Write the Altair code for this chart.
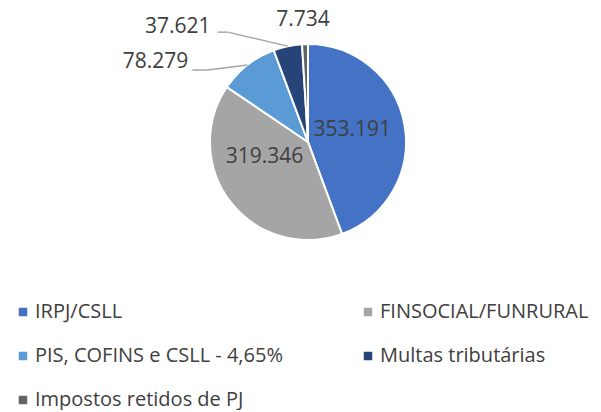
import altair as alt
import pandas as pd

categories = ["IRPJ/CSLL", "FINSOCIAL/FUNRURAL", "PIS, COFINS e CSLL - 4,65%",
              "Multas tributárias", "Impostos retidos de PJ"]
values = [353191, 319346, 78279, 37621, 7734]
colors = ["#4472C4", "#A5A5A5", "#5B9BD5", "#264478", "#636363"]

labels = [f"{v:,}".replace(",", ".") for v in values]
df = pd.DataFrame({"category": categories, "value": values,
                   "idx": list(range(len(values))), "label": labels})

CX, CY, R = 300, 134, 98
FONT = "Open Sans"
TXT = "#404040"

base = alt.Chart(df).transform_joinaggregate(
    total="sum(value)"
).transform_window(
    cum="sum(value)", sort=[alt.SortField("idx")], frame=[None, 0]
).transform_calculate(
    mid="2*PI*(datum.cum - datum.value/2)/datum.total"
).transform_calculate(
    ix=f"{CX} + 45*sin(datum.mid)", iy=f"{CY} - 45*cos(datum.mid)",
    ex=f"{CX} + {R}*sin(datum.mid)", ey=f"{CY} - {R}*cos(datum.mid)",
)

color = alt.Color("category:N", scale=alt.Scale(domain=categories, range=colors),
                  sort=categories,
                  legend=alt.Legend(title=None, orient="none", legendX=5, legendY=294,
                                    columns=2, direction="horizontal",
                                    columnPadding=75, rowPadding=24,
                                    symbolType="square", symbolSize=72, symbolStrokeWidth=0,
                                    labelFont=FONT, labelFontSize=20, labelColor=TXT,
                                    labelOffset=2, labelLimit=400, padding=0))

arc = alt.Chart(df).mark_arc(outerRadius=R, stroke="white", strokeWidth=2).encode(
    theta=alt.Theta("value:Q", stack=True),
    order=alt.Order("idx:Q"),
    color=color,
    x=alt.value(CX), y=alt.value(CY),
)

# label specs: (category index, position source, dx, dy, align)
specs = [
    (0, "i", 0, -4, "center"),
    (1, "i", -8, -13, "center"),
    (2, "e", -59, -3, "right"),
    (3, "e", -77, -19, "right"),
    (4, "e", -2, -24, "center"),
]
layers = [arc]
for i, src, dx, dy, al in specs:
    layers.append(
        base.transform_filter(alt.datum.idx == i).mark_text(
            font=FONT, fontSize=21, color=TXT, align=al, baseline="middle", dx=dx, dy=dy
        ).encode(x=alt.X(f"{src}x:Q", scale=None), y=alt.Y(f"{src}y:Q", scale=None),
                 text="label:N")
    )

# leader lines: (category index, elbow offset from edge, horizontal length)
leaders = [(2, -40, 5, -15), (3, -60, -14, -10)]
for i, ox, oy, hl in leaders:
    lb = base.transform_filter(alt.datum.idx == i).transform_calculate(
        bx=f"datum.ex + ({ox})", by=f"datum.ey + ({oy})", cx2=f"datum.ex + ({ox + hl})"
    )
    layers.append(lb.mark_rule(color="#A6A6A6", strokeWidth=1.5).encode(
        x=alt.X("ex:Q", scale=None), y=alt.Y("ey:Q", scale=None),
        x2="bx:Q", y2="by:Q"))
    layers.append(lb.mark_rule(color="#A6A6A6", strokeWidth=1.5).encode(
        x=alt.X("bx:Q", scale=None), y=alt.Y("by:Q", scale=None),
        x2="cx2:Q", y2="by:Q"))

chart = alt.layer(*layers).properties(width=585, height=396, padding=0).configure_view(
    strokeWidth=0)

chart.save("out.html", embed_options={"renderer": "svg", "actions": False})
